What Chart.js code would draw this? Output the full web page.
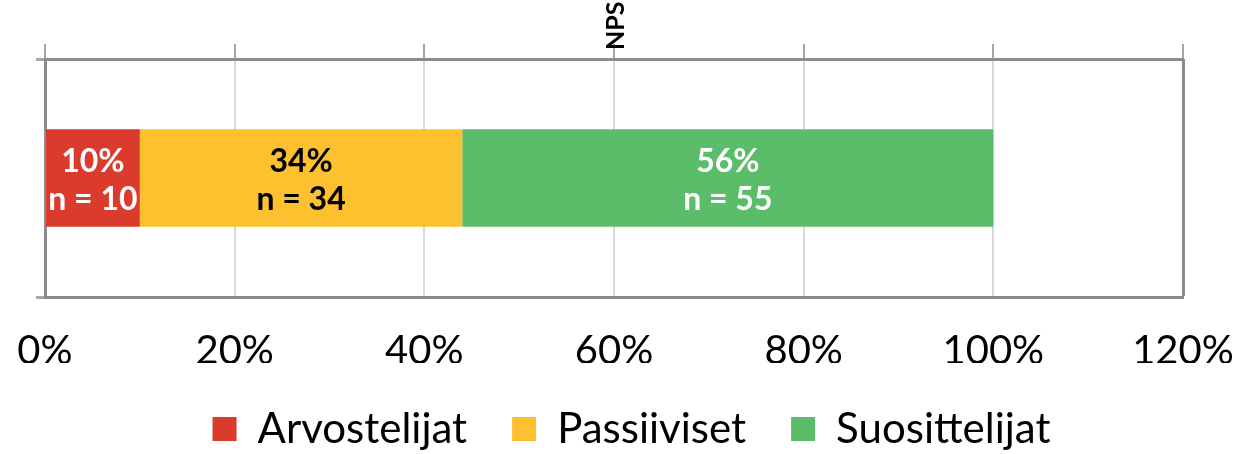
<!DOCTYPE html>
<html>
<head>
<meta charset="utf-8">
<script src="https://cdn.jsdelivr.net/npm/chart.js@4/dist/chart.umd.min.js"></script>
<style>
  html, body { margin: 0; padding: 0; background: #fff; }
  #wrap { width: 1242px; height: 454px; }
</style>
</head>
<body>
<div id="wrap"><canvas id="myChart" width="1242" height="454"></canvas></div>
<script>
// data
const categories = ["NPS"];
const seriesNames = ["Arvostelijat", "Passiiviset", "Suosittelijat"];
const percentValues = [10, 34, 56];
const countValues = [10, 34, 55];
const xTicks = [0, 20, 40, 60, 80, 100, 120];

const fillColors = ["#DA3B2C", "#FDC02F", "#5BBC6A"];
const labelColors = ["#ffffff", "#000000", "#ffffff"];
const frameGrey = "#8c8c8c";

// one dataset per group so the bar stacks
let datasets = [];
for (let i = 0; i < seriesNames.length; i++) {
  datasets.push({
    label: seriesNames[i],
    data: [percentValues[i]],
    counts: [countValues[i]],
    backgroundColor: fillColors[i],
    borderWidth: 0,
    barPercentage: 0.82,
    categoryPercentage: 0.5,
  });
}

// value labels "10%" / "n = 10" inside the bars
const barLabels = {
  id: "barLabels",
  afterDatasetsDraw(chart) {
    const ctx = chart.ctx;
    ctx.save();
    ctx.font = "bold 32px Lato";
    ctx.textAlign = "center";
    ctx.textBaseline = "middle";
    chart.data.datasets.forEach(function (ds, i) {
      const meta = chart.getDatasetMeta(i);
      meta.data.forEach(function (bar, j) {
        const cx = (bar.x + bar.base) / 2;
        ctx.fillStyle = labelColors[i];
        ctx.fillText(ds.data[j] + "%", cx, bar.y - 16);
        ctx.fillText("n = " + ds.counts[j], cx, bar.y + 22);
      });
    });
    ctx.restore();
  }
};

// category name written vertically above the plot
const categoryName = {
  id: "categoryName",
  afterDraw(chart) {
    const ctx = chart.ctx;
    const area = chart.chartArea;
    ctx.save();
    ctx.translate((area.left + area.right) / 2 + 2, area.top - 9);
    ctx.rotate(-Math.PI / 2);
    ctx.font = "bold 25px Lato";
    ctx.fillStyle = "#000";
    ctx.textAlign = "left";
    ctx.textBaseline = "middle";
    ctx.fillText(chart.data.labels[0], 0, 0);
    ctx.restore();
  }
};

// legend sits a little right of centre in the original
const legendShift = {
  id: "legendShift",
  afterLayout(chart) {
    chart.legend.left += 22;
    chart.legend.right += 22;
  }
};

let ctx = document.getElementById("myChart");

let myChart = new Chart(ctx, {
  type: "bar",
  data: {
    labels: categories,
    datasets: datasets,
  },
  options: {
    indexAxis: "y",
    responsive: false,
    animation: false,
    layout: {
      padding: { left: 36, right: 59, top: 44, bottom: -6 },
    },
    scales: {
      x: {
        stacked: true,
        min: 0,
        max: 120,
        afterBuildTicks: function (scale) {
          scale.ticks = xTicks.map(function (v) { return { value: v }; });
        },
        afterFit: function (scale) {
          // let the end labels hang into the page margins
          scale.paddingLeft = 0;
          scale.paddingRight = 0;
          scale.height = 66;
        },
        ticks: {
          callback: function (v) { return v + "%"; },
          font: { family: "Lato", size: 40 },
          color: "#000",
          padding: 30,
          maxRotation: 0,
        },
        grid: {
          color: function (c) {
            return c.tick && c.tick.value === 120 ? frameGrey : "#d9d9d9";
          },
          lineWidth: function (c) {
            return c.tick && c.tick.value === 120 ? 3 : 2;
          },
          drawTicks: false,
        },
        border: { display: true, color: frameGrey, width: 3 },
      },
      xTop: {
        type: "linear",
        position: "top",
        min: 0,
        max: 120,
        afterBuildTicks: function (scale) {
          scale.ticks = xTicks.map(function (v) { return { value: v }; });
        },
        afterFit: function (scale) {
          scale.paddingLeft = 0;
          scale.paddingRight = 0;
        },
        ticks: { display: false },
        grid: {
          drawOnChartArea: false,
          drawTicks: true,
          tickLength: 15,
          tickColor: "#a6a6a6",
          lineWidth: 2,
        },
        border: { display: true, color: frameGrey, width: 3 },
      },
      y: {
        stacked: true,
        ticks: { display: false },
        grid: {
          offset: true,
          color: frameGrey,
          lineWidth: 3,
          tickLength: 9,
          tickColor: "#a6a6a6",
        },
        border: { display: true, color: frameGrey, width: 3 },
      },
    },
    plugins: {
      legend: {
        position: "bottom",
        labels: {
          font: { family: "Lato", size: 42 },
          color: "#000",
          boxWidth: 24,
          boxHeight: 24,
          padding: 45,
        },
      },
      tooltip: { enabled: false },
    },
  },
  plugins: [barLabels, categoryName, legendShift],
});
</script>
</body>
</html>
